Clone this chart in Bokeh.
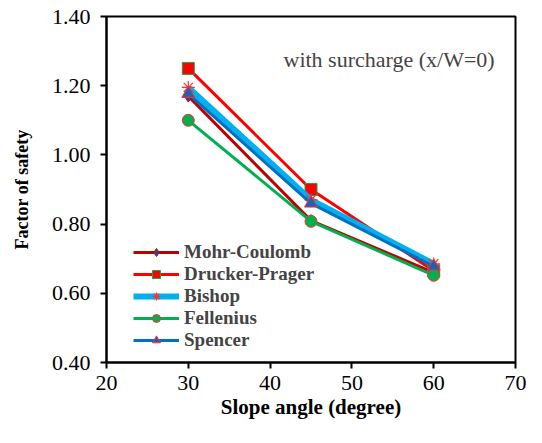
from bokeh.plotting import figure
from bokeh.models import NumeralTickFormatter, Legend, LegendItem, Label, FixedTicker
from bokeh.embed import file_html
from bokeh.resources import INLINE

angles = [30, 45, 60]
mohr_coulomb = [1.17, 0.81, 0.66]
drucker_prager = [1.25, 0.90, 0.665]
bishop = [1.195, 0.87, 0.685]
fellenius = [1.10, 0.808, 0.652]
spencer = [1.177, 0.86, 0.678]

x_ticks = [20, 30, 40, 50, 60, 70]
y_ticks = [0.4, 0.6, 0.8, 1.0, 1.2, 1.4]

FONT = "Liberation Serif"

p = figure(width=526, height=427, x_range=(20, 70), y_range=(0.4, 1.4),
           output_backend="svg", toolbar_location=None,
           min_border_left=106, min_border_right=11, min_border_top=16, min_border_bottom=65)
p.xgrid.visible = False
p.ygrid.visible = False
p.outline_line_color = "black"
p.outline_line_width = 2
p.outline_line_alpha = 1

for ax in (p.xaxis[0], p.yaxis[0]):
    ax.axis_line_width = 2
    ax.major_tick_line_width = 2
    ax.major_tick_out = 6
    ax.major_tick_in = 0
    ax.minor_tick_line_color = None
    ax.major_label_text_font = FONT
    ax.major_label_text_font_size = "22px"
    ax.major_label_text_color = "black"
    ax.axis_label_text_font = FONT
    ax.axis_label_text_font_style = "bold"
    ax.axis_label_text_color = "black"

p.xaxis.axis_label_text_font_size = "21px"
p.yaxis.axis_label_text_font_size = "18px"
p.xaxis.ticker = FixedTicker(ticks=x_ticks)
p.yaxis.ticker = FixedTicker(ticks=y_ticks)
p.yaxis.formatter = NumeralTickFormatter(format="0.00")
p.xaxis.axis_label = "Slope angle (degree)"
p.yaxis.axis_label = "Factor of safety"
p.xaxis.major_label_standoff = 7
p.yaxis.major_label_standoff = 10
p.xaxis.axis_label_standoff = 2
p.yaxis.axis_label_standoff = 17

items = []
# Mohr-Coulomb
l1 = p.line(angles, mohr_coulomb, line_color="#C00000", line_width=3)
m1 = p.scatter(angles, mohr_coulomb, marker="diamond", size=12, fill_color="#1F4E9A", line_color="#C00000", line_width=1)
items.append(LegendItem(label="Mohr-Coulomb", renderers=[l1, m1]))
# Drucker-Prager
l2 = p.line(angles, drucker_prager, line_color="#FF0000", line_width=3)
m2 = p.scatter(angles, drucker_prager, marker="square", size=12, fill_color="#FF0000", line_color="#00B050", line_width=1)
items.append(LegendItem(label="Drucker-Prager", renderers=[l2, m2]))
# Bishop
l3 = p.line(angles, bishop, line_color="#00B0F0", line_width=6)
m3 = p.scatter(angles, bishop, marker="asterisk", size=13, line_color="#FF3030", line_width=1.2)
items.append(LegendItem(label="Bishop", renderers=[l3, m3]))
# Fellenius
l4 = p.line(angles, fellenius, line_color="#00B050", line_width=3)
m4 = p.scatter(angles, fellenius, marker="circle", size=12, fill_color="#00B050", line_color="#FF3030", line_width=1)
items.append(LegendItem(label="Fellenius", renderers=[l4, m4]))
# Spencer
l5 = p.line(angles, spencer, line_color="#0070C0", line_width=3)
m5 = p.scatter(angles, spencer, marker="triangle", size=13, fill_color="#2060B0", line_color="#FF3030", line_width=1)
items.append(LegendItem(label="Spencer", renderers=[l5, m5]))

legend = Legend(items=items, location=(27, 11), border_line_color=None,
                background_fill_alpha=0, label_text_font=FONT,
                label_text_font_size="19px", label_text_font_style="bold",
                glyph_width=46, glyph_height=20, spacing=0, padding=2,
                label_standoff=5, margin=0, label_height=20)
p.add_layout(legend, "center")

p.add_layout(Label(x=177, y=303, x_units="screen", y_units="screen",
                   text="with surcharge (x/W=0)", text_font=FONT,
                   text_font_size="22px", text_baseline="middle"))

open("out.html", "w").write(file_html(p, INLINE))
